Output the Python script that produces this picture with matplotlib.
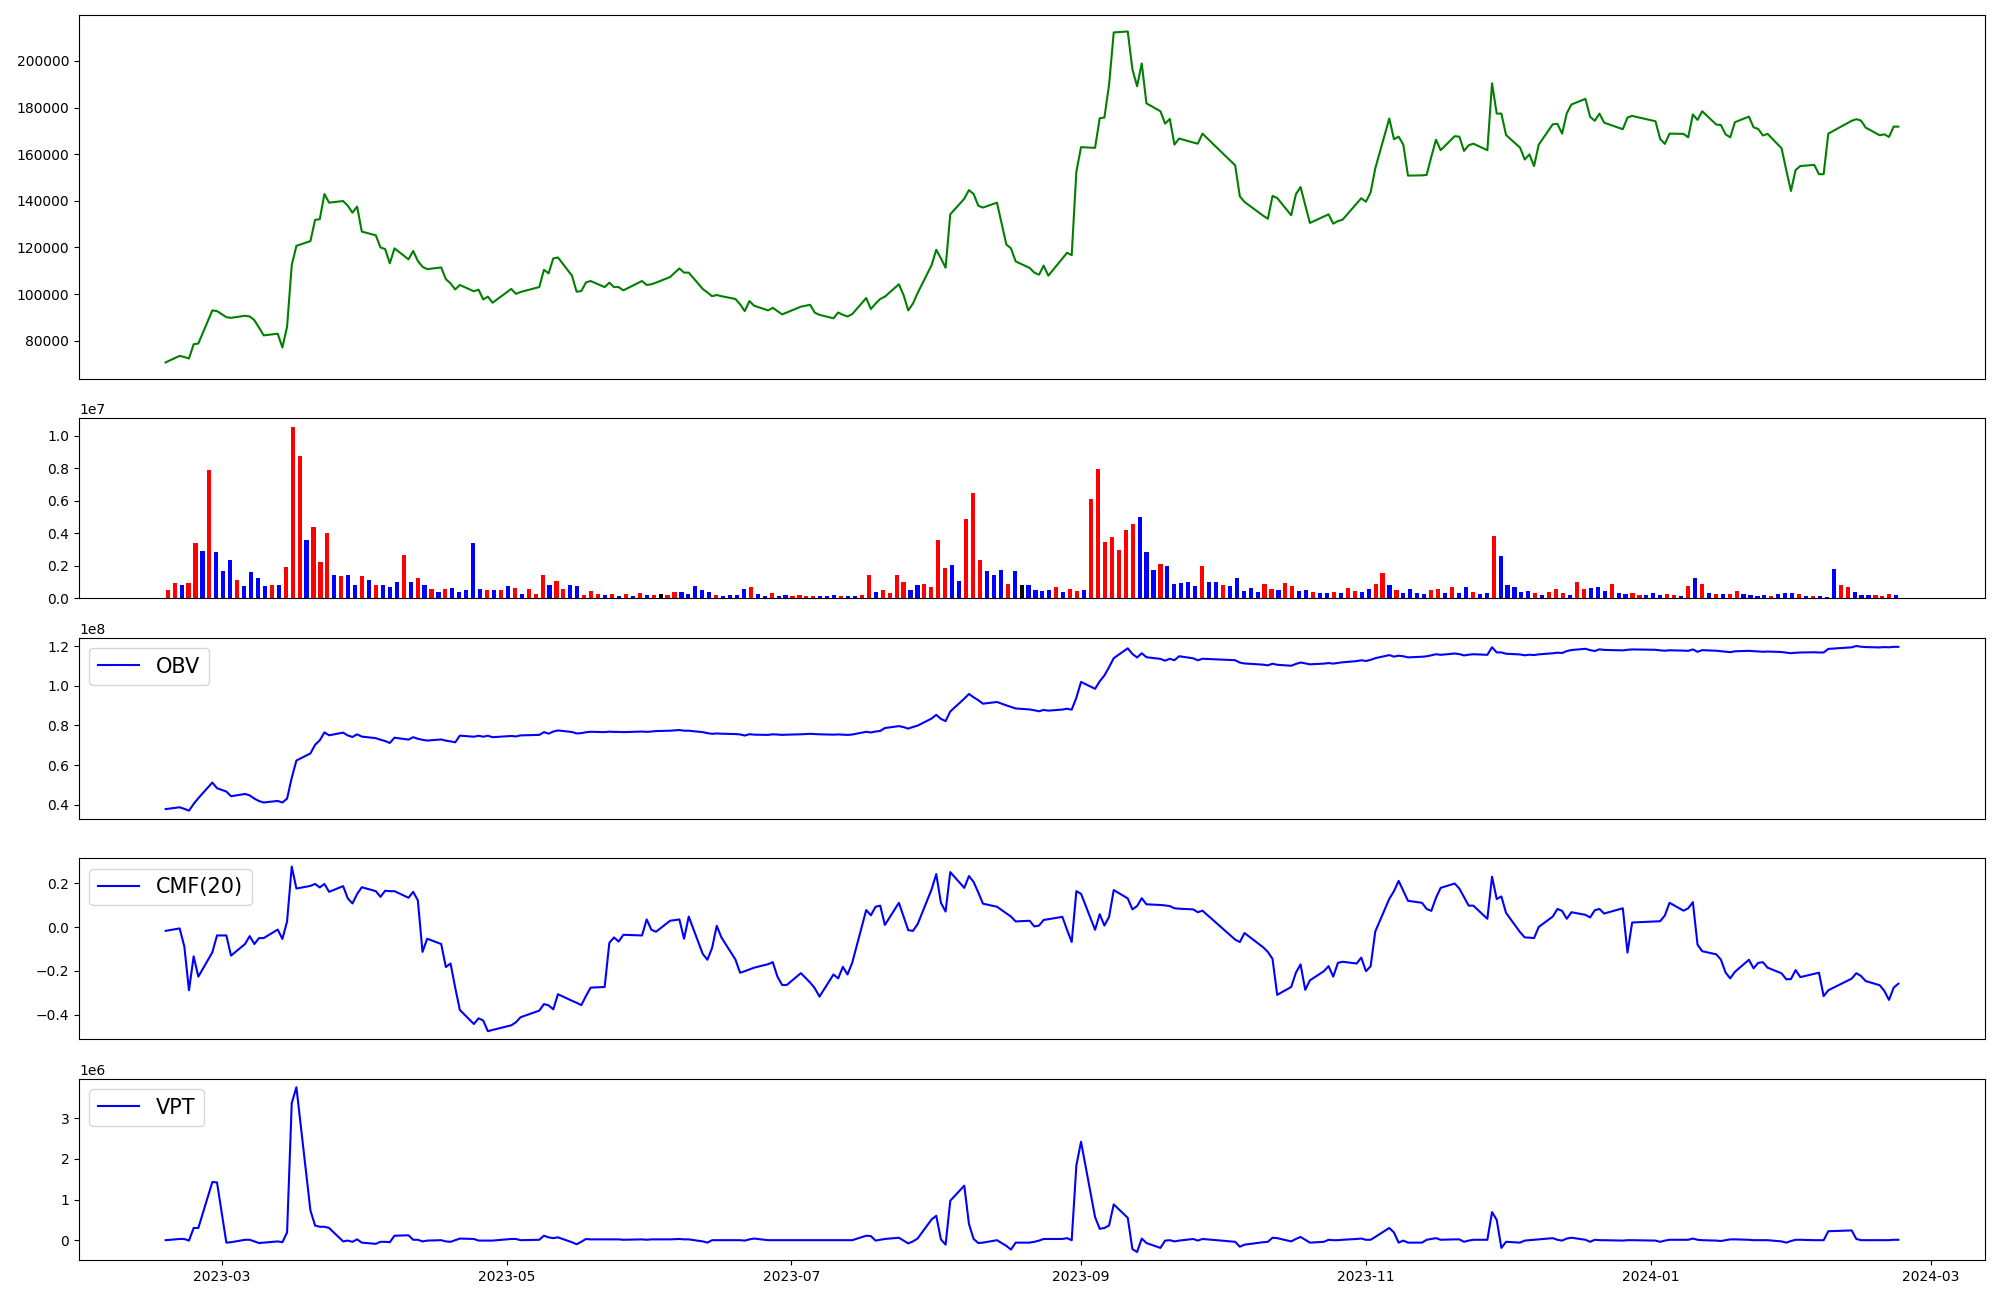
import numpy as np
import pandas as pd
import matplotlib
matplotlib.use("Agg")
import matplotlib.pyplot as plt

# ---------------- data ----------------
holidays = ["2023-03-01", "2023-05-01", "2023-05-05", "2023-05-29", "2023-06-06",
            "2023-08-15", "2023-09-28", "2023-09-29", "2023-10-02", "2023-10-03",
            "2023-10-09", "2023-12-25", "2023-12-29", "2024-01-01", "2024-02-09",
            "2024-02-12"]
dates = pd.bdate_range("2023-02-17", "2024-02-23")
dates = dates[~dates.isin(pd.to_datetime(holidays))]

close = [
    70700, 73500, 73000, 72400, 78500, 78800, 93000, 92700, 90100, 89800,
    90700, 90400, 88800, 85600, 82300, 83000, 77100, 86000, 112400, 120700,
    122700, 131800, 132100, 142900, 139200, 139900, 137900, 134900, 137500, 126800,
    125200, 120000, 119300, 113200, 119600, 114900, 118500, 114200, 111700, 110700,
    111400, 106400, 104600, 102000, 103900, 101200, 101900, 97700, 98900, 96300,
    102200, 100100, 100900, 103000, 110400, 108900, 115300, 115700, 107900, 101000,
    101300, 105000, 105600, 103000, 104900, 103000, 103000, 101600, 105600, 103900,
    104200, 104900, 107300, 111000, 109200, 109200, 102200, 100700, 99100, 99600,
    99100, 97900, 95600, 92700, 97000, 95000, 93000, 94100, 92700, 91300,
    92100, 94600, 95000, 95400, 92000, 91100, 89600, 92100, 91100, 90400,
    91400, 98300, 93600, 95900, 97900, 98900, 104200, 99600, 93000, 95900,
    100400, 112400, 119000, 115300, 111300, 134200, 140900, 144600, 142900, 137900,
    137100, 139200, 121300, 119600, 114000, 111200, 109200, 108300, 112200, 107900,
    115300, 117700, 116700, 152500, 163000, 162700, 175400, 175700, 189700, 212200,
    212600, 196400, 189100, 198900, 181800, 178400, 173100, 175100, 164100, 166700,
    165000, 164500, 168800, 155200, 141900, 139500, 133600, 132300, 142100, 141200,
    133800, 142800, 145900, 138200, 130500, 133300, 134200, 130200, 131300, 131900,
    138800, 141100, 139600, 143600, 153900, 175300, 166400, 167500, 164100, 150800,
    150900, 151100, 158900, 166200, 161700, 167700, 167500, 161400, 163800, 164500,
    161700, 190400, 177400, 177400, 168200, 162800, 157700, 159900, 154900, 164100,
    172800, 173000, 168800, 177500, 181300, 183700, 176000, 174300, 177400, 173500,
    170700, 175700, 176400, 174100, 166500, 164400, 168800, 168700, 167200, 177000,
    174700, 178400, 172700, 172500, 168500, 167200, 173700, 176100, 171500, 170800,
    168000, 168700, 162500, 153100, 144200, 153200, 154900, 155400, 151400, 151400,
    168800, 174300, 175000, 174400, 171400, 168100, 168500, 167400, 171800, 171800,
]

volume_m = [
    0.49, 0.91, 0.79, 0.91, 3.40, 2.92, 7.90, 2.86, 1.70, 2.37,
    1.15, 0.73, 1.64, 1.22, 0.73, 0.79, 0.79, 1.95, 10.54, 8.75,
    3.59, 4.38, 2.25, 4.01, 1.46, 1.34, 1.40, 0.79, 1.34, 1.15,
    0.79, 0.79, 0.67, 0.97, 2.67, 0.97, 1.22, 0.79, 0.55, 0.36,
    0.55, 0.61, 0.36, 0.49, 3.40, 0.55, 0.49, 0.49, 0.49, 0.73,
    0.61, 0.24, 0.55, 0.24, 1.40, 0.79, 1.09, 0.55, 0.79, 0.73,
    0.18, 0.43, 0.24, 0.18, 0.24, 0.12, 0.24, 0.12, 0.30, 0.18,
    0.18, 0.24, 0.18, 0.36, 0.36, 0.24, 0.73, 0.49, 0.36, 0.18,
    0.12, 0.18, 0.18, 0.55, 0.67, 0.24, 0.12, 0.30, 0.12, 0.18,
    0.12, 0.18, 0.12, 0.12, 0.12, 0.12, 0.18, 0.12, 0.12, 0.12,
    0.18, 1.40, 0.36, 0.49, 0.30, 1.46, 0.97, 0.49, 0.79, 0.85,
    0.67, 3.59, 1.88, 2.07, 1.09, 4.86, 6.50, 2.37, 1.70, 1.46,
    1.76, 0.85, 1.70, 0.79, 0.79, 0.49, 0.43, 0.49, 0.67, 0.36,
    0.55, 0.43, 0.49, 6.08, 7.96, 3.47, 3.77, 2.98, 4.19, 4.56,
    4.98, 2.86, 1.76, 2.13, 2.01, 0.85, 0.91, 0.97, 0.73, 2.01,
    1.03, 1.03, 0.79, 0.73, 1.22, 0.43, 0.61, 0.36, 0.85, 0.55,
    0.49, 0.91, 0.73, 0.43, 0.49, 0.36, 0.30, 0.30, 0.36, 0.30,
    0.61, 0.43, 0.36, 0.55, 0.85, 1.58, 0.79, 0.49, 0.30, 0.55,
    0.30, 0.24, 0.49, 0.55, 0.30, 0.67, 0.30, 0.67, 0.36, 0.24,
    0.30, 3.83, 2.61, 0.79, 0.67, 0.36, 0.43, 0.30, 0.18, 0.36,
    0.55, 0.30, 0.18, 0.97, 0.55, 0.61, 0.67, 0.43, 0.85, 0.30,
    0.24, 0.30, 0.18, 0.18, 0.30, 0.18, 0.24, 0.18, 0.12, 0.73,
    1.22, 0.85, 0.30, 0.24, 0.24, 0.24, 0.43, 0.24, 0.18, 0.12,
    0.18, 0.12, 0.24, 0.30, 0.30, 0.24, 0.12, 0.12, 0.12, 0.06,
    1.82, 0.79, 0.67, 0.36, 0.18, 0.18, 0.18, 0.12, 0.24, 0.18,
]

# candle colour per bar: r = up candle, b = down candle, k = unchanged
bar_codes = (
    "rrbrrbrbbb" "rbbbbrbrrr" "brrrbrbbrb" "rbbbrbrbrb" "rbbbbbrbrb"
    "rbrrrbrrbb" "rrrbrbrbrb" "rkrrbbbbbr" "bbbbrbbrbb" "rrrrbbbrbb"
    "rrbrrrrbbr" "rrrbbrrrbb" "brbkbbbbrb" "rrbrrrrrrr" "bbbrbbbbbr"
    "bbrbbbbbrr" "brrbbrbbrb" "rrbbrrbrbb" "bbrrbrbbrb" "brbbbbbrbr"
    "rrbrrbbbrb" "brrbbbrrbr" "brbrbrrbbb" "brbbbrbrbb" "brrbbbrrrb"
)

obv_start = 3.77e7

cmf20 = [
    -0.017, -0.006, -0.088, -0.288, -0.133, -0.226, -0.115, -0.038, -0.038, -0.130,
    -0.077, -0.041, -0.077, -0.050, -0.050, -0.011, -0.054, 0.026, 0.276, 0.176,
    0.188, 0.197, 0.181, 0.197, 0.161, 0.187, 0.131, 0.108, 0.151, 0.182,
    0.164, 0.138, 0.166, 0.164, 0.164, 0.134, 0.161, 0.122, -0.113, -0.053,
    -0.077, -0.182, -0.166, -0.276, -0.378, -0.442, -0.416, -0.426, -0.475, -0.469,
    -0.448, -0.434, -0.411, -0.381, -0.351, -0.357, -0.375, -0.306, -0.336, -0.345,
    -0.356, -0.314, -0.276, -0.273, -0.072, -0.047, -0.066, -0.035, -0.038, 0.035,
    -0.012, -0.021, 0.029, 0.035, -0.053, 0.048, -0.122, -0.149, -0.095, 0.006,
    -0.047, -0.148, -0.208, -0.201, -0.193, -0.185, -0.169, -0.160, -0.226, -0.264,
    -0.264, -0.210, -0.231, -0.253, -0.279, -0.317, -0.216, -0.234, -0.181, -0.216,
    -0.163, 0.078, 0.054, 0.093, 0.098, 0.010, 0.111, 0.048, -0.014, -0.017,
    0.013, 0.172, 0.242, 0.111, 0.071, 0.251, 0.179, 0.233, 0.206, 0.158,
    0.107, 0.093, 0.063, 0.048, 0.026, 0.029, 0.003, 0.007, 0.033, 0.036,
    0.047, -0.012, -0.068, 0.164, 0.152, -0.012, 0.059, 0.007, 0.047, 0.169,
    0.131, 0.081, 0.096, 0.132, 0.104, 0.101, 0.099, 0.096, 0.086, 0.084,
    0.081, 0.068, 0.075, -0.057, -0.068, -0.027, -0.092, -0.113, -0.145, -0.309,
    -0.273, -0.208, -0.170, -0.286, -0.243, -0.201, -0.178, -0.226, -0.163, -0.158,
    -0.166, -0.139, -0.201, -0.179, -0.020, 0.129, 0.164, 0.211, 0.166, 0.120,
    0.111, 0.083, 0.074, 0.134, 0.179, 0.199, 0.176, 0.137, 0.098, 0.098,
    0.038, 0.230, 0.128, 0.140, 0.065, -0.023, -0.047, -0.048, -0.050, 0.001,
    0.048, 0.083, 0.074, 0.038, 0.068, 0.056, 0.044, 0.077, 0.083, 0.062,
    0.086, -0.116, 0.021, 0.026, 0.027, 0.053, 0.111, 0.075, 0.086, 0.114,
    -0.080, -0.110, -0.124, -0.148, -0.207, -0.234, -0.204, -0.149, -0.188, -0.163,
    -0.160, -0.185, -0.211, -0.238, -0.237, -0.196, -0.228, -0.213, -0.208, -0.315,
    -0.288, -0.235, -0.210, -0.223, -0.246, -0.265, -0.291, -0.332, -0.276, -0.258,
]

vpt_m = [
    0.00, 0.03, 0.03, -0.01, 0.30, 0.30, 1.43, 1.42, -0.06, -0.05,
    0.01, 0.01, -0.03, -0.07, -0.06, -0.03, -0.05, 0.19, 3.37, 3.76,
    0.73, 0.36, 0.33, 0.33, 0.30, -0.03, -0.01, -0.04, 0.02, -0.06,
    -0.09, -0.04, -0.04, -0.05, 0.11, 0.12, 0.01, 0.01, -0.03, -0.01,
    0.00, -0.03, -0.04, 0.00, 0.04, 0.03, -0.01, -0.01, -0.01, -0.01,
    0.03, 0.03, 0.00, 0.01, 0.11, 0.07, 0.05, 0.07, -0.05, -0.10,
    -0.04, 0.03, 0.02, 0.02, 0.02, 0.02, 0.02, 0.01, 0.02, 0.01,
    0.02, 0.02, 0.02, 0.03, 0.02, 0.02, -0.03, -0.06, 0.00, 0.00,
    0.00, 0.00, 0.00, -0.01, 0.02, 0.04, 0.00, 0.00, 0.00, 0.00,
    0.00, 0.00, 0.00, 0.00, 0.00, 0.00, 0.00, 0.00, 0.00, 0.00,
    0.00, 0.11, 0.10, -0.01, 0.01, 0.03, 0.06, -0.01, -0.08, -0.03,
    0.04, 0.51, 0.60, 0.02, -0.11, 0.97, 1.34, 0.40, 0.03, -0.07,
    -0.06, 0.00, -0.14, -0.23, -0.06, -0.06, -0.04, -0.01, 0.03, 0.03,
    0.03, 0.05, 0.00, 1.84, 2.42, 0.57, 0.28, 0.30, 0.36, 0.88,
    0.55, -0.22, -0.29, 0.04, -0.07, -0.19, -0.01, 0.00, -0.03, -0.01,
    0.03, -0.01, 0.03, -0.04, -0.16, -0.11, -0.05, -0.04, 0.06, 0.05,
    -0.03, 0.03, 0.08, 0.01, -0.06, -0.04, 0.01, 0.00, 0.00, 0.01,
    0.03, 0.04, 0.01, 0.01, 0.08, 0.30, 0.19, -0.06, -0.01, -0.06,
    -0.06, 0.01, 0.03, 0.05, 0.01, 0.02, 0.02, -0.04, -0.01, 0.01,
    0.01, 0.69, 0.50, -0.19, -0.04, -0.06, -0.01, 0.00, 0.01, 0.02,
    0.05, 0.01, -0.01, 0.04, 0.06, 0.01, -0.04, 0.01, 0.00, 0.00,
    -0.01, 0.00, 0.00, -0.01, -0.04, -0.01, 0.01, 0.01, 0.01, 0.04,
    0.01, 0.00, -0.01, -0.02, 0.00, 0.02, 0.02, 0.01, 0.00, 0.00,
    0.00, 0.00, -0.03, -0.06, -0.02, 0.01, 0.01, 0.00, 0.00, 0.00,
    0.22, 0.24, 0.03, 0.00, 0.00, 0.00, 0.00, 0.00, 0.01, 0.01,
]

# ---------------- derived ----------------
close_a = np.array(close, dtype=float)
volume = np.array(volume_m) * 1e6
vpt = np.array(vpt_m) * 1e6
colour_map = {"r": "red", "b": "blue", "k": "black"}
bar_colors = [colour_map[c] for c in bar_codes]
obv = obv_start + np.concatenate([[0.0], np.cumsum(np.sign(np.diff(close_a)) * volume[1:])])

# ---------------- figure ----------------
fig = plt.figure(figsize=(20, 13), dpi=100)
L, W = 0.0395, 0.953
ax1 = fig.add_axes([L, 0.7085, W, 0.2800])
ax2 = fig.add_axes([L, 0.5398, W, 0.1384])
ax3 = fig.add_axes([L, 0.3701, W, 0.1393])
ax4 = fig.add_axes([L, 0.2004, W, 0.1393])
ax5 = fig.add_axes([L, 0.0306, W, 0.1394])

ax1.plot(dates, close_a, color="green")
ax1.set_xticks([])

ax2.bar(np.arange(len(volume)), volume, width=0.6, color=bar_colors)
ax2.set_xticks([])

ax3.plot(dates, obv, color="blue", label="OBV")
ax3.legend(loc="upper left", fontsize=15)
ax3.set_xticks([])

ax4.plot(dates, cmf20, color="blue", label="CMF(20)")
ax4.legend(loc="upper left", fontsize=15)
ax4.set_xticks([])

ax5.plot(dates, vpt, color="blue", label="VPT")
ax5.legend(loc="upper left", fontsize=15)

fig.savefig("out.png", dpi=100)
